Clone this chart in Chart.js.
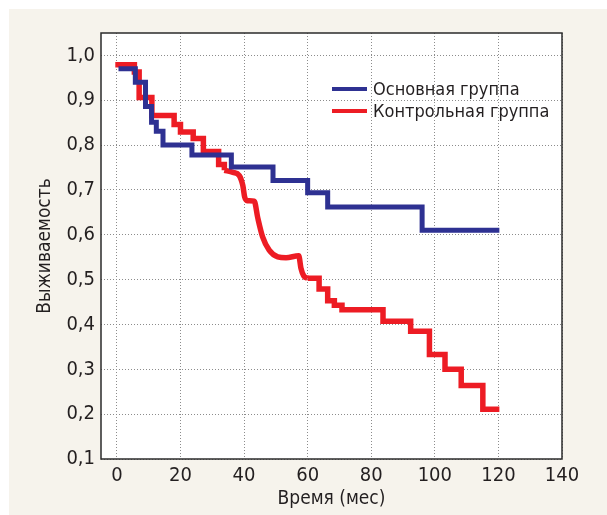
<!DOCTYPE html>
<html>
<head>
<meta charset="utf-8">
<script src="https://cdn.jsdelivr.net/npm/chart.js@4"></script>
<style>
    html, body { margin: 0; padding: 0; background: #ffffff; }
    #wrap { position: relative; width: 607px; height: 515px; }
    #panel { position: absolute; left: 9px; top: 9px; right: 0; bottom: 0; background: #f6f3ec; }
    #chart { position: absolute; left: 0; top: 0; }
</style>
</head>
<body>
<div id="wrap">
    <div id="panel"></div>
    <canvas id="chart" width="607" height="515"></canvas>
</div>
<script>
// Основная группа (ступенчатая кривая)
const mainTime = [0.5, 5.8, 9.0, 10.9, 12.4, 14.5, 23.6, 36.0, 49.1, 60.0, 66.3, 96.0, 120.3];
const mainSurv = [0.970, 0.940, 0.886, 0.851, 0.831, 0.800, 0.778, 0.751, 0.721, 0.694, 0.662, 0.610, 0.610];

// Контрольная группа: ступени до 34 мес
const ctrlTimeA = [-0.5, 5.5, 7.0, 11.0, 18.0, 20.0, 24.0, 27.2, 32.0, 33.8];
const ctrlSurvA = [0.979, 0.963, 0.906, 0.866, 0.846, 0.829, 0.815, 0.786, 0.757, 0.744];

// Контрольная группа: сглаженный участок 34-60 мес
const ctrlTimeB = [33.8, 36.5, 38.5, 39.6, 40.2, 41.0, 43.2, 44.3, 45.8, 47.9, 50.6, 53.2, 57.2, 57.9, 58.8, 60.0];
const ctrlSurvB = [0.744, 0.739, 0.732, 0.710, 0.684, 0.676, 0.675, 0.638, 0.596, 0.566, 0.551, 0.549, 0.553, 0.525, 0.508, 0.503];

// Контрольная группа: ступени после 60 мес
const ctrlTimeC = [60.0, 63.6, 66.3, 68.4, 70.8, 83.7, 92.4, 98.3, 103.2, 108.3, 115.1, 120.3];
const ctrlSurvC = [0.503, 0.479, 0.453, 0.443, 0.433, 0.407, 0.385, 0.333, 0.300, 0.264, 0.211, 0.211];

const seriesNames = ['Основная группа', 'Контрольная группа'];
const xTitle = 'Время (мес)';
const yTitle = 'Выживаемость';

const BLUE = '#2e3192';
const RED = '#ed1c24';
const TEXT = '#231f20';
const FONT = "'Liberation Sans Narrow', 'DejaVu Sans Condensed', 'Roboto', sans-serif";

const toPoints = (xs, ys) => xs.map((x, i) => ({ x: x, y: ys[i] }));

// белый фон и рамка вокруг области графика
const framePlugin = {
    id: 'frame',
    beforeDraw(chart) {
        const { ctx, chartArea: a } = chart;
        ctx.save();
        ctx.fillStyle = '#ffffff';
        ctx.fillRect(a.left, a.top, a.right - a.left, a.bottom - a.top);
        ctx.restore();
    },
    afterDraw(chart) {
        const { ctx, chartArea: a } = chart;
        ctx.save();
        ctx.strokeStyle = '#2b2b2b';
        ctx.lineWidth = 1.5;
        ctx.strokeRect(a.left, a.top, a.right - a.left, a.bottom - a.top);
        ctx.restore();
    }
};

// легенда внутри области графика
const legendPlugin = {
    id: 'innerLegend',
    afterDatasetsDraw(chart) {
        const ctx = chart.ctx;
        const colors = [BLUE, RED];
        ctx.save();
        ctx.font = '18px ' + FONT;
        ctx.textBaseline = 'middle';
        seriesNames.forEach((name, i) => {
            const y = 89 + i * 22;
            ctx.strokeStyle = colors[i];
            ctx.lineWidth = 4;
            ctx.beginPath();
            ctx.moveTo(332, y);
            ctx.lineTo(367, y);
            ctx.stroke();
            ctx.fillStyle = TEXT;
            ctx.fillText(name, 373, y + 1);
        });
        ctx.restore();
    }
};

const ctx = document.getElementById('chart').getContext('2d');
new Chart(ctx, {
    type: 'line',
    data: {
        datasets: [
            {
                label: seriesNames[0],
                data: toPoints(mainTime, mainSurv),
                borderColor: BLUE,
                borderWidth: 5,
                stepped: true,
                pointRadius: 0
            },
            {
                label: seriesNames[1],
                data: toPoints(ctrlTimeA, ctrlSurvA),
                borderColor: RED,
                borderWidth: 5.5,
                stepped: true,
                pointRadius: 0
            },
            {
                label: seriesNames[1],
                data: toPoints(ctrlTimeB, ctrlSurvB),
                borderColor: RED,
                borderWidth: 5.5,
                tension: 0.4,
                cubicInterpolationMode: 'monotone',
                pointRadius: 0
            },
            {
                label: seriesNames[1],
                data: toPoints(ctrlTimeC, ctrlSurvC),
                borderColor: RED,
                borderWidth: 5.5,
                stepped: true,
                pointRadius: 0
            }
        ]
    },
    options: {
        responsive: false,
        animation: false,
        layout: {
            padding: { left: 0, top: 33, right: 45, bottom: 0 }
        },
        plugins: {
            legend: { display: false },
            tooltip: { enabled: false }
        },
        scales: {
            x: {
                type: 'linear',
                min: -5,
                max: 140,
                afterFit: (s) => { s.height = 56; },
                grid: {
                    color: '#8c8c8c',
                    lineWidth: 1,
                    drawTicks: false
                },
                border: { display: false, dash: [1, 2] },
                ticks: {
                    stepSize: 20,
                    includeBounds: false,
                    padding: 5,
                    color: TEXT,
                    font: { family: FONT, size: 20 }
                },
                title: {
                    display: true,
                    text: xTitle,
                    color: TEXT,
                    padding: { top: 0, bottom: 5 },
                    font: { family: FONT, size: 19 }
                }
            },
            y: {
                min: 0.1,
                max: 1.05,
                afterFit: (s) => { s.width = 101; },
                grid: {
                    color: '#8c8c8c',
                    lineWidth: 1,
                    drawTicks: false
                },
                border: { display: false, dash: [1, 2] },
                ticks: {
                    stepSize: 0.1,
                    includeBounds: false,
                    padding: 6,
                    color: TEXT,
                    font: { family: FONT, size: 20 },
                    callback: (v) => v.toFixed(1).replace('.', ',')
                },
                title: {
                    display: true,
                    text: yTitle,
                    color: TEXT,
                    padding: { top: 34, bottom: 0 },
                    font: { family: FONT, size: 19 }
                }
            }
        }
    },
    plugins: [framePlugin, legendPlugin]
});
</script>
</body>
</html>
